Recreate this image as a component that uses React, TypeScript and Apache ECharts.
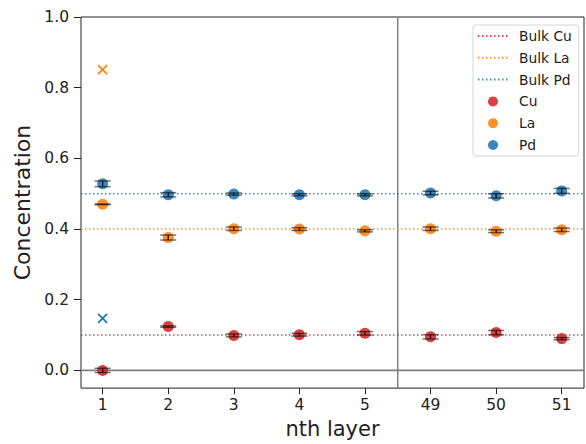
import React, { useEffect, useRef } from "react";
import * as echarts from "echarts";

const categories = ["1", "2", "3", "4", "5", "49", "50", "51"];
const cuValues = [0.0, 0.124, 0.099, 0.101, 0.105, 0.095, 0.107, 0.09];
const laValues = [0.47, 0.376, 0.401, 0.4, 0.395, 0.401, 0.394, 0.398];
const pdValues = [0.528, 0.497, 0.499, 0.497, 0.497, 0.502, 0.494, 0.508];
const cuErrors = [0.006, 0.002, 0.004, 0.004, 0.005, 0.006, 0.006, 0.003];
const laErrors = [0.001, 0.007, 0.005, 0.004, 0.003, 0.005, 0.004, 0.005];
const pdErrors = [0.008, 0.006, 0.003, 0.003, 0.003, 0.005, 0.006, 0.007];
const outlierLa = [[0, 0.851]];
const outlierPd = [[0, 0.147]];
const bulkCu = 0.1;
const bulkLa = 0.4;
const bulkPd = 0.5;
const yTicks = [0, 0.2, 0.4, 0.6, 0.8, 1.0];
const splitPosition = 4.5;

const COLORS = { Cu: "#d62728", La: "#ff7f0e", Pd: "#1f77b4" };
const FONT = "DejaVu Sans";
const X_MIN = -0.33;
const X_MAX = 7.34;
const Y_MIN = -0.05;
const Y_MAX = 1.0;

function pts(vals: number[]) {
  return vals.map((v, i) => [i, v]);
}
function errPts(vals: number[], errs: number[]) {
  return vals.map((v, i) => [i, v, errs[i]]);
}

const errorRender = (params: any, api: any) => {
  const x = api.value(0);
  const y = api.value(1);
  const e = api.value(2);
  const lo = api.coord([x, y - e]);
  const hi = api.coord([x, y + e]);
  const hw = 8;
  return {
    type: "group",
    children: [
      { type: "line", shape: { x1: lo[0], y1: lo[1], x2: hi[0], y2: hi[1] }, style: { stroke: "#111", lineWidth: 1.3 } },
      { type: "line", shape: { x1: lo[0] - hw, y1: lo[1], x2: lo[0] + hw, y2: lo[1] }, style: { stroke: "rgba(0,0,0,0.55)", lineWidth: 1.5 } },
      { type: "line", shape: { x1: hi[0] - hw, y1: hi[1], x2: hi[0] + hw, y2: hi[1] }, style: { stroke: "rgba(0,0,0,0.55)", lineWidth: 1.5 } },
    ],
  };
};

const crossRender = (color: string) => (params: any, api: any) => {
  const c = api.coord([api.value(0), api.value(1)]);
  const h = 4.5;
  return {
    type: "group",
    children: [
      { type: "line", shape: { x1: c[0] - h, y1: c[1] - h, x2: c[0] + h, y2: c[1] + h }, style: { stroke: color, lineWidth: 1.8 } },
      { type: "line", shape: { x1: c[0] - h, y1: c[1] + h, x2: c[0] + h, y2: c[1] - h }, style: { stroke: color, lineWidth: 1.8 } },
    ],
  };
};

function bulkSeries(name: string, value: number, color: string) {
  return {
    name,
    type: "line",
    data: [[X_MIN, value], [X_MAX, value]],
    symbol: "none",
    lineStyle: { color, width: 1.5, type: [1.5, 2.5], opacity: 0.85 },
    itemStyle: { color, opacity: 0 },
    z: 2,
    silent: true,
  };
}

function scatterSeries(name: string, vals: number[], color: string) {
  return {
    name,
    type: "scatter",
    data: pts(vals),
    symbol: "circle",
    symbolSize: 11,
    itemStyle: { color, opacity: 0.88 },
    z: 3,
  };
}

function errorSeries(vals: number[], errs: number[]) {
  return {
    type: "custom",
    data: errPts(vals, errs),
    renderItem: errorRender,
    z: 4,
    silent: true,
  };
}

export default function App() {
  const ref = useRef<HTMLDivElement>(null);
  useEffect(() => {
    if (!ref.current) return;
    const chart = echarts.init(ref.current, null, { renderer: "svg" });
    chart.setOption({
      animation: false,
      textStyle: { fontFamily: FONT },
      grid: {
        left: 81,
        right: 2,
        top: 17,
        bottom: 51,
        show: true,
        borderColor: "#222",
        borderWidth: 1,
        backgroundColor: "transparent",
      },
      legend: {
        data: [
          { name: "Bulk Cu", itemStyle: { opacity: 0 } },
          { name: "Bulk La", itemStyle: { opacity: 0 } },
          { name: "Bulk Pd", itemStyle: { opacity: 0 } },
          "Cu",
          "La",
          "Pd",
        ],
        orient: "vertical",
        left: 473,
        top: 25,
        itemWidth: 30,
        itemHeight: 10,
        itemGap: 7.8,
        padding: [4, 7, 4, 4],
        backgroundColor: "#fff",
        borderColor: "#d6d6d6",
        borderWidth: 1,
        borderRadius: 3,
        textStyle: { fontFamily: FONT, fontSize: 13.8, color: "#222", lineHeight: 14, padding: [0, 0, 0, 6] },
      },
      xAxis: {
        type: "value",
        min: X_MIN,
        max: X_MAX,
        name: "nth layer",
        nameLocation: "middle",
        nameGap: 28,
        nameTextStyle: { fontFamily: FONT, fontSize: 21, color: "#222" },
        axisLine: { show: false, onZero: false },
        splitLine: { show: false },
        axisTick: { show: true, length: 6, lineStyle: { color: "#222" }, customValues: categories.map((_, i) => i) },
        axisLabel: {
          fontFamily: FONT,
          fontSize: 15.5,
          color: "#222",
          margin: 9,
          customValues: categories.map((_, i) => i),
          formatter: (v: number) => categories[Math.round(v)] ?? "",
        },
      },
      yAxis: {
        type: "value",
        min: Y_MIN,
        max: Y_MAX,
        name: "Concentration",
        nameLocation: "middle",
        nameGap: 45,
        nameTextStyle: { fontFamily: FONT, fontSize: 22, color: "#222" },
        axisLine: { show: false, onZero: false },
        splitLine: { show: false },
        axisTick: { show: true, length: 7, lineStyle: { color: "#222" }, customValues: yTicks },
        axisLabel: {
          fontFamily: FONT,
          fontSize: 15.5,
          color: "#222",
          margin: 12,
          customValues: yTicks,
          formatter: (v: number) => v.toFixed(1),
        },
      },
      series: [
        {
          type: "line",
          data: [[X_MIN, 0], [X_MAX, 0]],
          symbol: "none",
          lineStyle: { color: "#808080", width: 1.8 },
          z: 1,
          silent: true,
        },
        {
          type: "line",
          data: [[splitPosition, Y_MIN], [splitPosition, Y_MAX]],
          symbol: "none",
          lineStyle: { color: "#808080", width: 1.5 },
          z: 1,
          silent: true,
        },
        bulkSeries("Bulk Cu", bulkCu, COLORS.Cu),
        bulkSeries("Bulk La", bulkLa, COLORS.La),
        bulkSeries("Bulk Pd", bulkPd, COLORS.Pd),
        scatterSeries("Cu", cuValues, COLORS.Cu),
        scatterSeries("La", laValues, COLORS.La),
        scatterSeries("Pd", pdValues, COLORS.Pd),
        errorSeries(cuValues, cuErrors),
        errorSeries(laValues, laErrors),
        errorSeries(pdValues, pdErrors),
        { type: "custom", data: outlierLa, renderItem: crossRender(COLORS.La), z: 3, silent: true },
        { type: "custom", data: outlierPd, renderItem: crossRender(COLORS.Pd), z: 3, silent: true },
      ],
    });
    return () => chart.dispose();
  }, []);
  return <div ref={ref} style={{ width: 586, height: 444, position: "absolute", left: 0, top: 0 }} />;
}
